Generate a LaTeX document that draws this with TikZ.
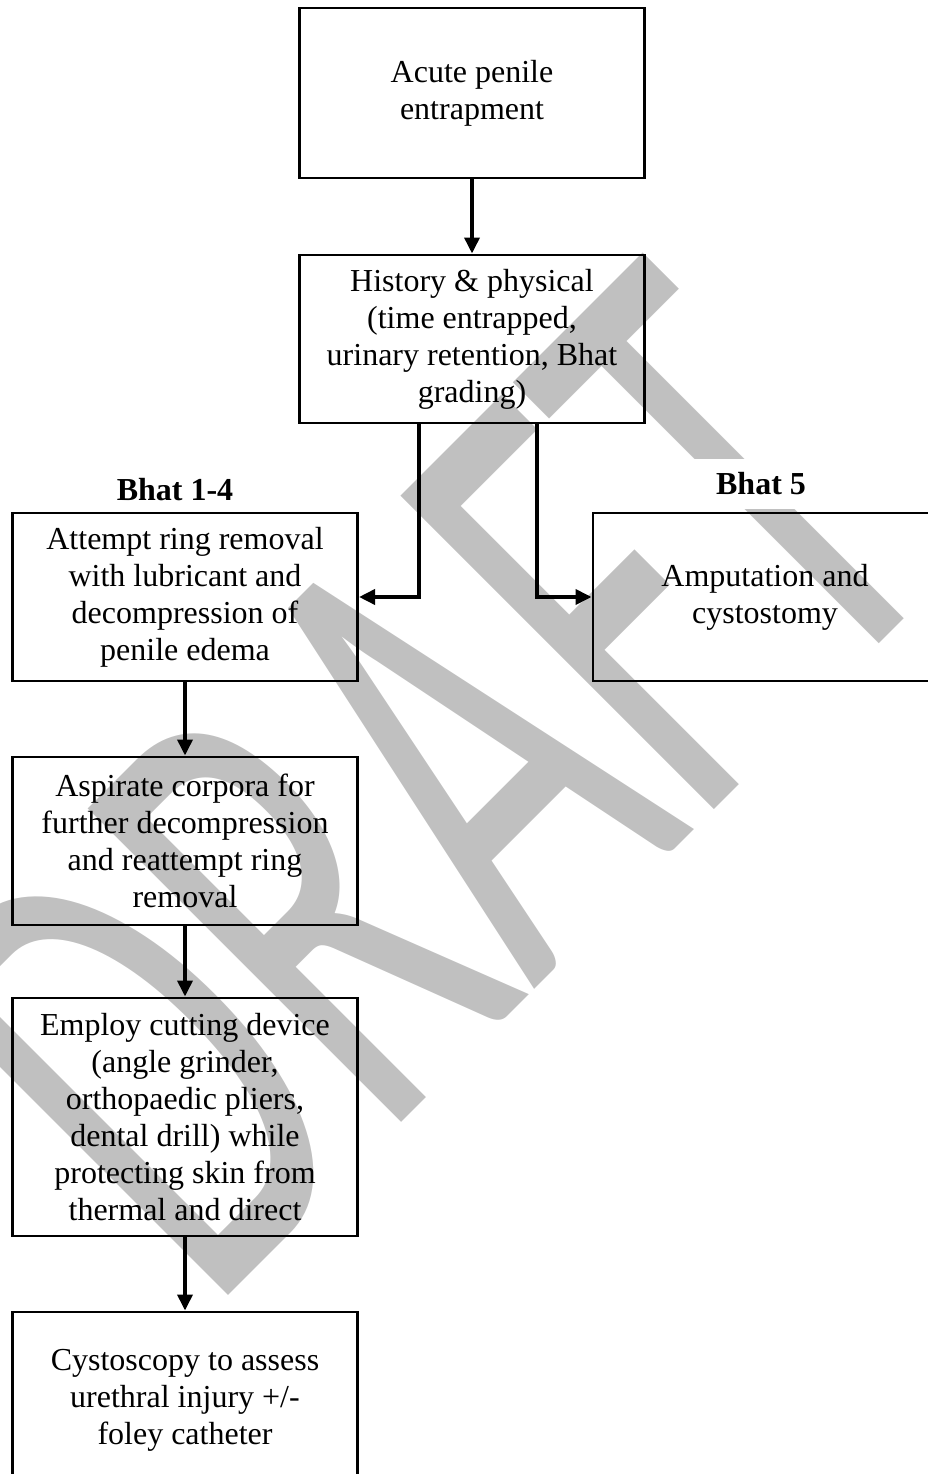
\documentclass[tikz,border=0pt]{standalone}
\usepackage{fontspec}
\setmainfont{Liberation Serif}
\newfontfamily\wmfont{Carlito}
\usepackage{graphicx}
\usetikzlibrary{arrows.meta}
\definecolor{wmgray}{RGB}{192,192,192}
\begin{document}
\begin{tikzpicture}[x=0.375pt, y=-0.375pt,
    box/.style={draw, line width=1.1pt, align=center, minimum width=129.4pt, inner sep=2pt, font=\fontsize{12}{13.9}\selectfont},
    tag/.style={fill=white, inner sep=1pt, minimum width=60pt, minimum height=18.5pt, font=\fontsize{12}{13.9}\selectfont\bfseries},
    arr/.style={-{Triangle[length=6pt,width=5.6pt]}, line width=1.4pt}]
\useasboundingbox (0,0) rectangle (927,1474);
\node[rotate=45, inner sep=0, text=wmgray] (draftmark) at (428,782) {\resizebox{398pt}{166pt}{\wmfont DRAFT}};
\node[tag] (gradelow) at (175,490) {Bhat 1-4};
\node[tag] (gradehigh) at (761,484) {Bhat 5};
\node[box, minimum height=63.75pt] (entrap) at (472,93) {Acute penile\\entrapment};
\node[box, minimum height=63pt] (history) at (472,339) {History \& physical\\(time entrapped,\\urinary retention, Bhat\\grading)};
\node[box, minimum height=63pt] (attempt) at (185,597) {Attempt ring removal\\with lubricant and\\decompression of\\penile edema};
\node[box, minimum height=63pt, minimum width=129pt] (amput) at (765,597) {Amputation and\\cystostomy};
\node[box, minimum height=63pt] (aspirate) at (185,841) {Aspirate corpora for\\further decompression\\and reattempt ring\\removal};
\node[box, minimum height=89.25pt] (cutting) at (185,1117) {Employ cutting device\\(angle grinder,\\orthopaedic pliers,\\dental drill) while\\protecting skin from\\thermal and direct};
\node[box, minimum height=66pt] (cysto) at (185,1400) {Cystoscopy to assess\\urethral injury +/-\\foley catheter};
\draw[arr] (entrap) -- (history);
\draw[arr] ([xshift=-20pt]history.south) |- (attempt);
\draw[arr] ([xshift=24.4pt]history.south) |- (amput);
\draw[arr] (attempt) -- (aspirate);
\draw[arr] (aspirate) -- (cutting);
\draw[arr] (cutting) -- (cysto);
\end{tikzpicture}
\end{document}
